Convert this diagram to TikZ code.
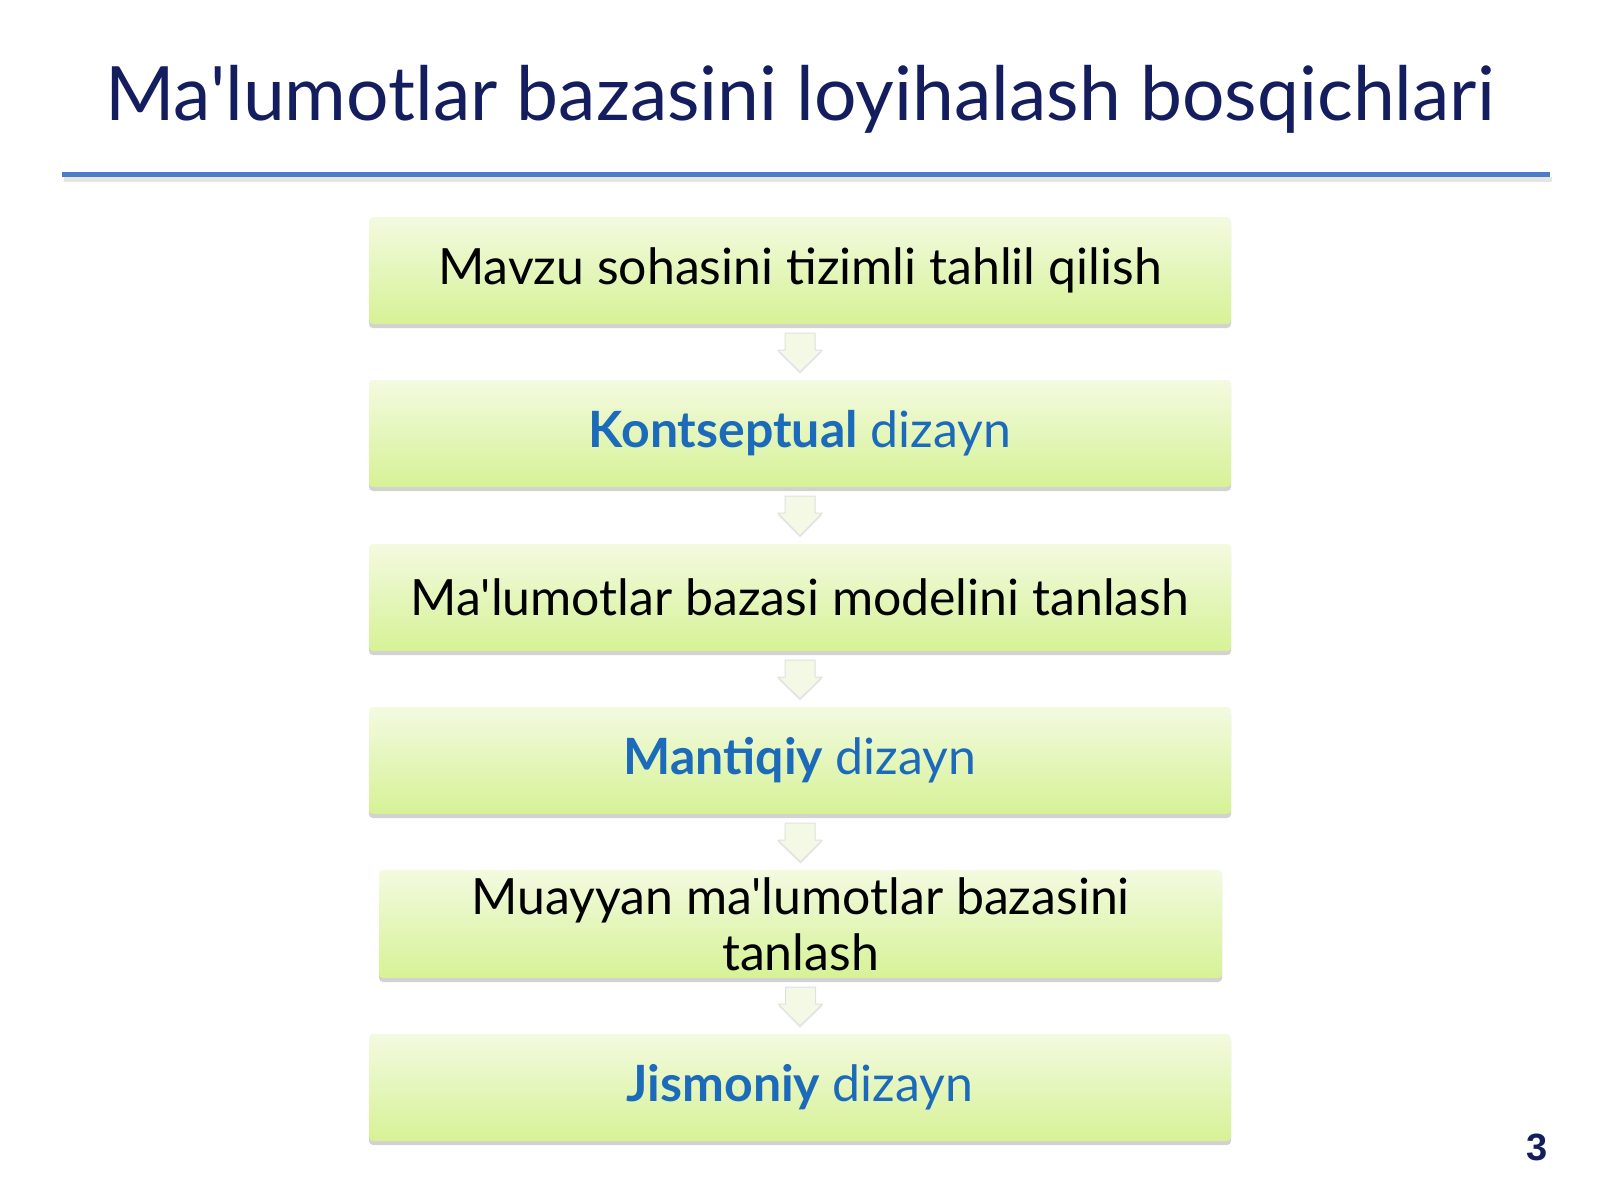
\documentclass[tikz,border=0pt]{standalone}
\usepackage{fontspec}
\setmainfont{Lato}[Ligatures=TeXOff]
\newfontfamily\pnumfont{Liberation Sans}
\usetikzlibrary{shadows,calc}
\definecolor{titlenavy}{RGB}{20,30,95}
\definecolor{rulecol}{RGB}{74,124,200}
\definecolor{boxtop}{RGB}{243,250,224}
\definecolor{boxbot}{RGB}{214,242,150}
\definecolor{kblue}{RGB}{28,106,186}
\definecolor{arrowfill}{RGB}{244,249,230}
\tikzset{
  stagebox/.style={rectangle, rounded corners=4pt, minimum width=862pt,
    minimum height=107pt, top color=boxtop, bottom color=boxbot, draw=none,
    drop shadow={shadow xshift=0pt, shadow yshift=-4pt, opacity=0.25, fill=black!70},
    font=\fontsize{50}{56}\selectfont, align=center, inner sep=0pt, text=black},
  blockarrow/.style={fill=arrowfill, draw=black!12, line width=1pt, line join=round,
    drop shadow={shadow xshift=0pt, shadow yshift=-2pt, opacity=0.12, fill=black!60}}
}
\newcommand\stagearrow[2]{%
  \path[blockarrow] ($(#1.south)+(-15,9)$) -- ($(#1.south)+(15,9)$)
    -- ($(#1.south)+(15,26)$) -- ($(#1.south)+(22,26)$) -- ($(#2.north)+(0,-8)$)
    -- ($(#1.south)+(-22,26)$) -- ($(#1.south)+(-15,26)$) -- cycle;}
\begin{document}
\begin{tikzpicture}[x=1pt,y=-1pt]
\useasboundingbox[fill=white] (0,0) rectangle (1600,1200);
% title
\node[anchor=base, text=titlenavy, font=\fontsize{75}{85}\selectfont, inner sep=0pt]
  (title) at (800,120) {Ma'lumotlar bazasini loyihalash bosqichlari};
\fill[black!10] (64,177) rectangle (1552,182);
\fill[rulecol] (62,172) rectangle (1550,177);
% boxes
\node[stagebox] (b1) at (800,270.5) {Mavzu sohasini tizimli tahlil qilish};
\node[stagebox, text=kblue] (b2) at (800,433.5) {\textbf{Kontseptual} dizayn};
\node[stagebox] (b3) at (800,597.5) {Ma'lumotlar bazasi modelini tanlash};
\node[stagebox, text=kblue] (b4) at (800,760.5) {\textbf{Mantiqiy} dizayn};
\node[stagebox, minimum width=843pt, minimum height=108pt] (b5) at (800.5,924)
  {Muayyan ma'lumotlar bazasini\\tanlash};
\node[stagebox, text=kblue] (b6) at (800,1087.5) {\textbf{Jismoniy} dizayn};
% arrows
\stagearrow{b1}{b2}
\stagearrow{b2}{b3}
\stagearrow{b3}{b4}
\stagearrow{b4}{b5}
\stagearrow{b5}{b6}
% page number
\node[anchor=base, text=titlenavy, font=\pnumfont\bfseries\fontsize{38}{40}\selectfont, inner sep=0pt]
  (pnum) at (1537,1160) {3};
\end{tikzpicture}
\end{document}
